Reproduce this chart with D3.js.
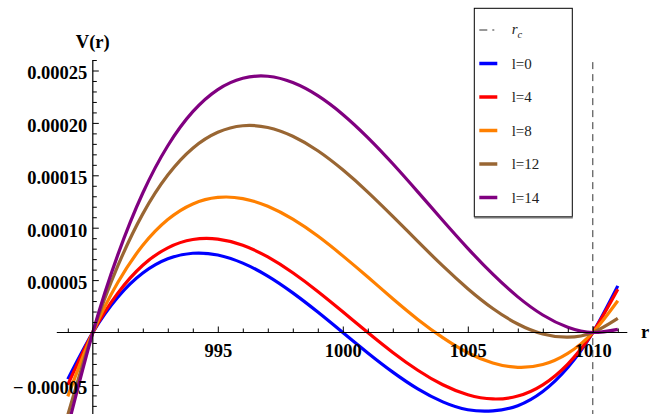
<!DOCTYPE html>
<html>
<head>
<meta charset="utf-8">
<script src="https://cdn.jsdelivr.net/npm/d3@7"></script>
<style>
  html, body { margin: 0; padding: 0; background: #fff; }
  svg { display: block; }
</style>
</head>
<body>
<svg id="chart" width="657" height="414"></svg>
<script>
// Radial samples r and potential V(r) for each angular momentum l
const rSamples = [989, 990, 991, 992, 993, 994, 995, 996, 997, 998, 999, 1000,
                  1001, 1002, 1003, 1004, 1005, 1006, 1007, 1008, 1009, 1010, 1011];

const seriesNames = ["l=0", "l=4", "l=8", "l=12", "l=14"];
const seriesColors = ["#0000ff", "#ff0000", "#ff8000", "#996633", "#800080"];

// values in units of 1e-5
const vL0  = [-4.45, 0, 3.37, 5.67, 7.03, 7.56, 7.39, 6.62, 5.38, 3.78, 1.95, 0,
              -1.95, -3.78, -5.38, -6.62, -7.37, -7.48, -6.98, -5.63, -3.34, 0, 4.45];
const vL4  = [-4.99, 0, 3.76, 6.42, 8.08, 8.87, 8.91, 8.32, 7.21, 5.70, 3.92, 1.98,
              0, -1.90, -3.60, -4.99, -5.94, -6.34, -6.06, -4.99, -3.01, 0, 4.12];
const vL8  = [-6.10, 0, 4.77, 8.32, 10.78, 12.27, 12.89, 12.78, 12.04, 10.81, 9.20, 7.31,
              5.29, 3.22, 1.25, -0.49, -1.93, -2.91, -3.33, -3.06, -1.99, 0, 3.03];
const vL12 = [-7.86, 0, 6.35, 11.32, 15.02, 17.58, 19.10, 19.73, 19.56, 18.72, 17.34, 15.52,
              13.40, 11.08, 8.69, 6.35, 4.18, 2.29, 0.81, -0.14, -0.45, 0, 1.34];
const vL14 = [-9.04, 0, 7.41, 13.31, 17.82, 21.07, 23.18, 24.26, 24.45, 23.85, 22.60, 20.81,
              18.60, 16.10, 13.42, 10.69, 8.03, 5.56, 3.40, 1.67, 0.50, 0, 0.30];
const seriesValues = [vL0, vL4, vL8, vL12, vL14];
const valueUnit = 1e-5;

// critical radius marker
const rCritical = 1010;

// axis ticks
const xMajorTicks = [995, 1000, 1005, 1010];
const xMinorTicks = [989, 991, 992, 993, 994, 996, 997, 998, 999, 1001, 1002, 1003, 1004,
                     1006, 1007, 1008, 1009, 1011];
const yMajorTicks = [-0.00005, 0.00005, 0.0001, 0.00015, 0.0002, 0.00025];
const yMinorTicks = [-0.00008, -0.00007, -0.00006, -0.00004, -0.00003, -0.00002, -0.00001,
                     0.00001, 0.00002, 0.00003, 0.00004, 0.00006, 0.00007, 0.00008, 0.00009,
                     0.00011, 0.00012, 0.00013, 0.00014, 0.00016, 0.00017, 0.00018, 0.00019,
                     0.00021, 0.00022, 0.00023, 0.00024, 0.00026];

const svg = d3.select("#chart");
const W = 657, H = 414;
svg.append("rect").attr("width", W).attr("height", H).attr("fill", "#fff");

const x = d3.scaleLinear().domain([990, 1010]).range([92.8, 592.8]);
const y = d3.scaleLinear().domain([0, 0.00025]).range([332.5, 70.5]);

const serif = "'Liberation Serif', 'Times New Roman', serif";
const fmt = d3.format(".5f");
const yFmt = d => d < 0 ? "\u2212\u2009" + fmt(-d) : fmt(d);

// critical radius: dashed vertical line
svg.append("line")
  .attr("x1", x(rCritical)).attr("x2", x(rCritical))
  .attr("y1", y(0.000258)).attr("y2", H)
  .attr("stroke", "#333").attr("stroke-width", 1)
  .attr("stroke-dasharray", "7,5");

// curves
const line = d3.line()
  .x((d, i) => x(rSamples[i]))
  .y(d => y(d * valueUnit))
  .curve(d3.curveNatural);

seriesValues.forEach((vals, k) => {
  svg.append("path")
    .attr("d", line(vals))
    .attr("fill", "none")
    .attr("stroke", seriesColors[k])
    .attr("stroke-width", 3.2)
    .attr("stroke-linejoin", "round");
});

// x axis
const xAxisG = svg.append("g").attr("transform", `translate(0,${y(0)})`);
xAxisG.append("line")
  .attr("x1", x(988.56)).attr("x2", x(1011.38))
  .attr("stroke", "#000").attr("stroke-width", 1.2);
const xMajor = xAxisG.append("g").call(
  d3.axisBottom(x).tickValues(xMajorTicks).tickSizeInner(-6).tickSizeOuter(0)
    .tickPadding(11).tickFormat(d3.format("d")));
const xMinor = xAxisG.append("g").call(
  d3.axisBottom(x).tickValues(xMinorTicks).tickSizeInner(-4).tickSizeOuter(0).tickFormat(""));
[xMajor, xMinor].forEach(g => {
  g.select(".domain").remove();
  g.selectAll(".tick line").attr("stroke", "#000").attr("stroke-width", 1);
});
xMajor.selectAll(".tick text")
  .attr("fill", "#000")
  .style("font-family", serif).style("font-weight", "bold").style("font-size", "18.5px");

// y axis
const yAxisG = svg.append("g").attr("transform", `translate(${x(990)},0)`);
yAxisG.append("line")
  .attr("y1", y(0.00026)).attr("y2", H)
  .attr("stroke", "#000").attr("stroke-width", 1.2);
const yMajor = yAxisG.append("g").call(
  d3.axisLeft(y).tickValues(yMajorTicks).tickSizeInner(-6).tickSizeOuter(0)
    .tickPadding(5.5).tickFormat(yFmt));
const yMinor = yAxisG.append("g").call(
  d3.axisLeft(y).tickValues(yMinorTicks).tickSizeInner(-4).tickSizeOuter(0).tickFormat(""));
[yMajor, yMinor].forEach(g => {
  g.select(".domain").remove();
  g.selectAll(".tick line").attr("stroke", "#000").attr("stroke-width", 1);
});
yMajor.selectAll(".tick text")
  .attr("fill", "#000").attr("dy", "0.45em")
  .style("font-family", serif).style("font-weight", "bold").style("font-size", "18.5px");

// axis titles
svg.append("text")
  .attr("x", x(990)).attr("y", 48)
  .attr("text-anchor", "middle")
  .style("font-family", serif).style("font-weight", "bold").style("font-size", "18.5px")
  .text("V(r)");
svg.append("text")
  .attr("x", 641).attr("y", 338)
  .style("font-family", serif).style("font-weight", "bold").style("font-size", "18.5px")
  .text("r");

// legend
const lg = svg.append("g");
const box = { x0: 474.3, y0: 8.3, x1: 572.3, y1: 216.7 };
lg.append("rect")
  .attr("x", box.x0).attr("y", box.y0)
  .attr("width", box.x1 - box.x0).attr("height", box.y1 - box.y0)
  .attr("fill", "#fff").attr("stroke", "#000").attr("stroke-width", 1);
lg.append("line")
  .attr("x1", box.x0).attr("x2", box.x1 + 0.5)
  .attr("y1", box.y1 + 0.8).attr("y2", box.y1 + 0.8)
  .attr("stroke", "#777").attr("stroke-width", 2);

const legendRowY = i => 30 + i * 33.5;
const swX0 = 479.3, swX1 = 497.3, txtX = 511.7;

// r_c entry
lg.append("line")
  .attr("x1", swX0).attr("x2", swX1)
  .attr("y1", legendRowY(0)).attr("y2", legendRowY(0))
  .attr("stroke", "#333").attr("stroke-width", 1)
  .attr("stroke-dasharray", "8,5,2,100");
const rcText = lg.append("text")
  .attr("x", txtX).attr("y", legendRowY(0) + 4)
  .style("font-family", serif).style("font-size", "15px").attr("fill", "#222");
rcText.append("tspan").style("font-style", "italic").text("r");
rcText.append("tspan").style("font-style", "italic").style("font-size", "10.5px")
  .attr("dy", 3.5).text("c");

seriesNames.forEach((name, k) => {
  const yy = legendRowY(k + 1);
  lg.append("line")
    .attr("x1", swX0).attr("x2", swX1)
    .attr("y1", yy).attr("y2", yy)
    .attr("stroke", seriesColors[k]).attr("stroke-width", 3.5);
  lg.append("text")
    .attr("x", txtX).attr("y", yy + 5)
    .style("font-family", serif).style("font-size", "15px").attr("fill", "#222")
    .text(name);
});
</script>
</body>
</html>
